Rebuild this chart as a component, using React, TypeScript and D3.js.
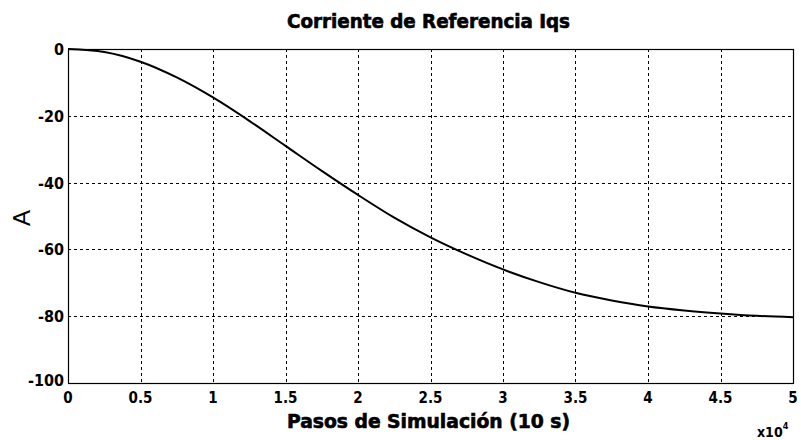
import { useEffect, useRef } from 'react';
import * as d3 from 'd3';

// pasos de simulación (x10^4) y corriente Iqs (A)
const pasos = [0, 0.25, 0.5, 0.75, 1, 1.25, 1.5, 1.75, 2, 2.25, 2.5, 2.75, 3, 3.25, 3.5, 3.75, 4, 4.25, 4.5, 4.75, 5];
const iqs = [0, -0.9, -3.8, -8.5, -14.5, -21.5, -29, -36.5, -43.7, -50.5, -56.4, -61.5, -66, -69.8, -73, -75.3, -77.1, -78.3, -79.2, -79.9, -80.3];
const xTicks = [0, 0.5, 1, 1.5, 2, 2.5, 3, 3.5, 4, 4.5, 5];
const yTicks = [0, -20, -40, -60, -80, -100];

const FONT = "'DejaVu Sans Condensed', 'Liberation Sans Narrow', Arial, sans-serif";

function App() {
    const ref = useRef<SVGSVGElement>(null);

    useEffect(() => {
        const width = 801;
        const height = 440;
        const left = 68, right = 793, top = 49, bottom = 383;

        const svg = d3.select(ref.current);
        svg.selectAll('*').remove();

        const x = d3.scaleLinear().domain([0, 5]).range([left, right]);
        const y = d3.scaleLinear().domain([-100, 0]).range([bottom, top]);

        svg.append('rect').attr('width', width).attr('height', height).attr('fill', '#fff');

        // grid
        const grid = svg.append('g')
            .attr('stroke', '#000')
            .attr('stroke-width', 1)
            .attr('stroke-dasharray', '3,3');
        grid.selectAll('.gx')
            .data(xTicks.slice(1, -1))
            .join('line')
            .attr('x1', d => Math.round(x(d)) + 0.5)
            .attr('x2', d => Math.round(x(d)) + 0.5)
            .attr('y1', top)
            .attr('y2', bottom);
        grid.selectAll('.gy')
            .data(yTicks.slice(1, -1))
            .join('line')
            .attr('y1', d => Math.round(y(d)) + 0.5)
            .attr('y2', d => Math.round(y(d)) + 0.5)
            .attr('x1', left)
            .attr('x2', right);

        // frame
        svg.append('rect')
            .attr('x', left + 0.5)
            .attr('y', top + 0.5)
            .attr('width', right - left)
            .attr('height', bottom - top)
            .attr('fill', 'none')
            .attr('stroke', '#000')
            .attr('stroke-width', 1.2);

        // curve
        const line = d3.line<number>()
            .x((d, i) => x(pasos[i]))
            .y(d => y(d))
            .curve(d3.curveMonotoneX);
        svg.append('path')
            .datum(iqs)
            .attr('d', line)
            .attr('fill', 'none')
            .attr('stroke', '#000')
            .attr('stroke-width', 2);

        // tick labels
        svg.append('g')
            .selectAll('text')
            .data(xTicks)
            .join('text')
            .attr('x', d => x(d))
            .attr('y', 403)
            .attr('text-anchor', 'middle')
            .attr('font-family', FONT)
            .attr('font-weight', 'bold')
            .attr('font-size', 15)
            .text(d => String(d));

        svg.append('g')
            .selectAll('text')
            .data(yTicks)
            .join('text')
            .attr('x', 64)
            .attr('y', d => (d === -100 ? y(d) + 3 : y(d) + 6))
            .attr('text-anchor', 'end')
            .attr('font-family', FONT)
            .attr('font-weight', 'bold')
            .attr('font-size', 16)
            .text(d => String(d));

        // title and labels
        svg.append('text')
            .attr('x', 287)
            .attr('y', 28)
            .attr('textLength', 283)
            .attr('lengthAdjust', 'spacingAndGlyphs')
            .attr('font-family', FONT)
            .attr('font-weight', 'bold')
            .attr('font-size', 20)
            .attr('stroke', '#000')
            .attr('stroke-width', 0.6)
            .text('Corriente de Referencia Iqs');

        svg.append('text')
            .attr('x', 287)
            .attr('y', 428)
            .attr('textLength', 283)
            .attr('lengthAdjust', 'spacingAndGlyphs')
            .attr('font-family', FONT)
            .attr('font-weight', 'bold')
            .attr('font-size', 20)
            .attr('stroke', '#000')
            .attr('stroke-width', 0.6)
            .text('Pasos de Simulación (10 s)');

        svg.append('text')
            .attr('transform', 'translate(30,218) rotate(-90)')
            .attr('text-anchor', 'middle')
            .attr('font-family', "'Liberation Sans', Arial, sans-serif")
            .attr('font-size', 24)
            .text('A');

        const ex = svg.append('text')
            .attr('x', 757)
            .attr('y', 437)
            .attr('font-family', FONT)
            .attr('font-weight', 'bold')
            .attr('font-size', 14);
        ex.append('tspan').text('x10');
        ex.append('tspan').attr('dy', -8).attr('font-size', 9).text('4');
    }, []);

    return (
        <div style={{ position: 'absolute', left: 0, top: 0 }}>
            <svg ref={ref} width={801} height={440}></svg>
        </div>
    );
}

export default App;
